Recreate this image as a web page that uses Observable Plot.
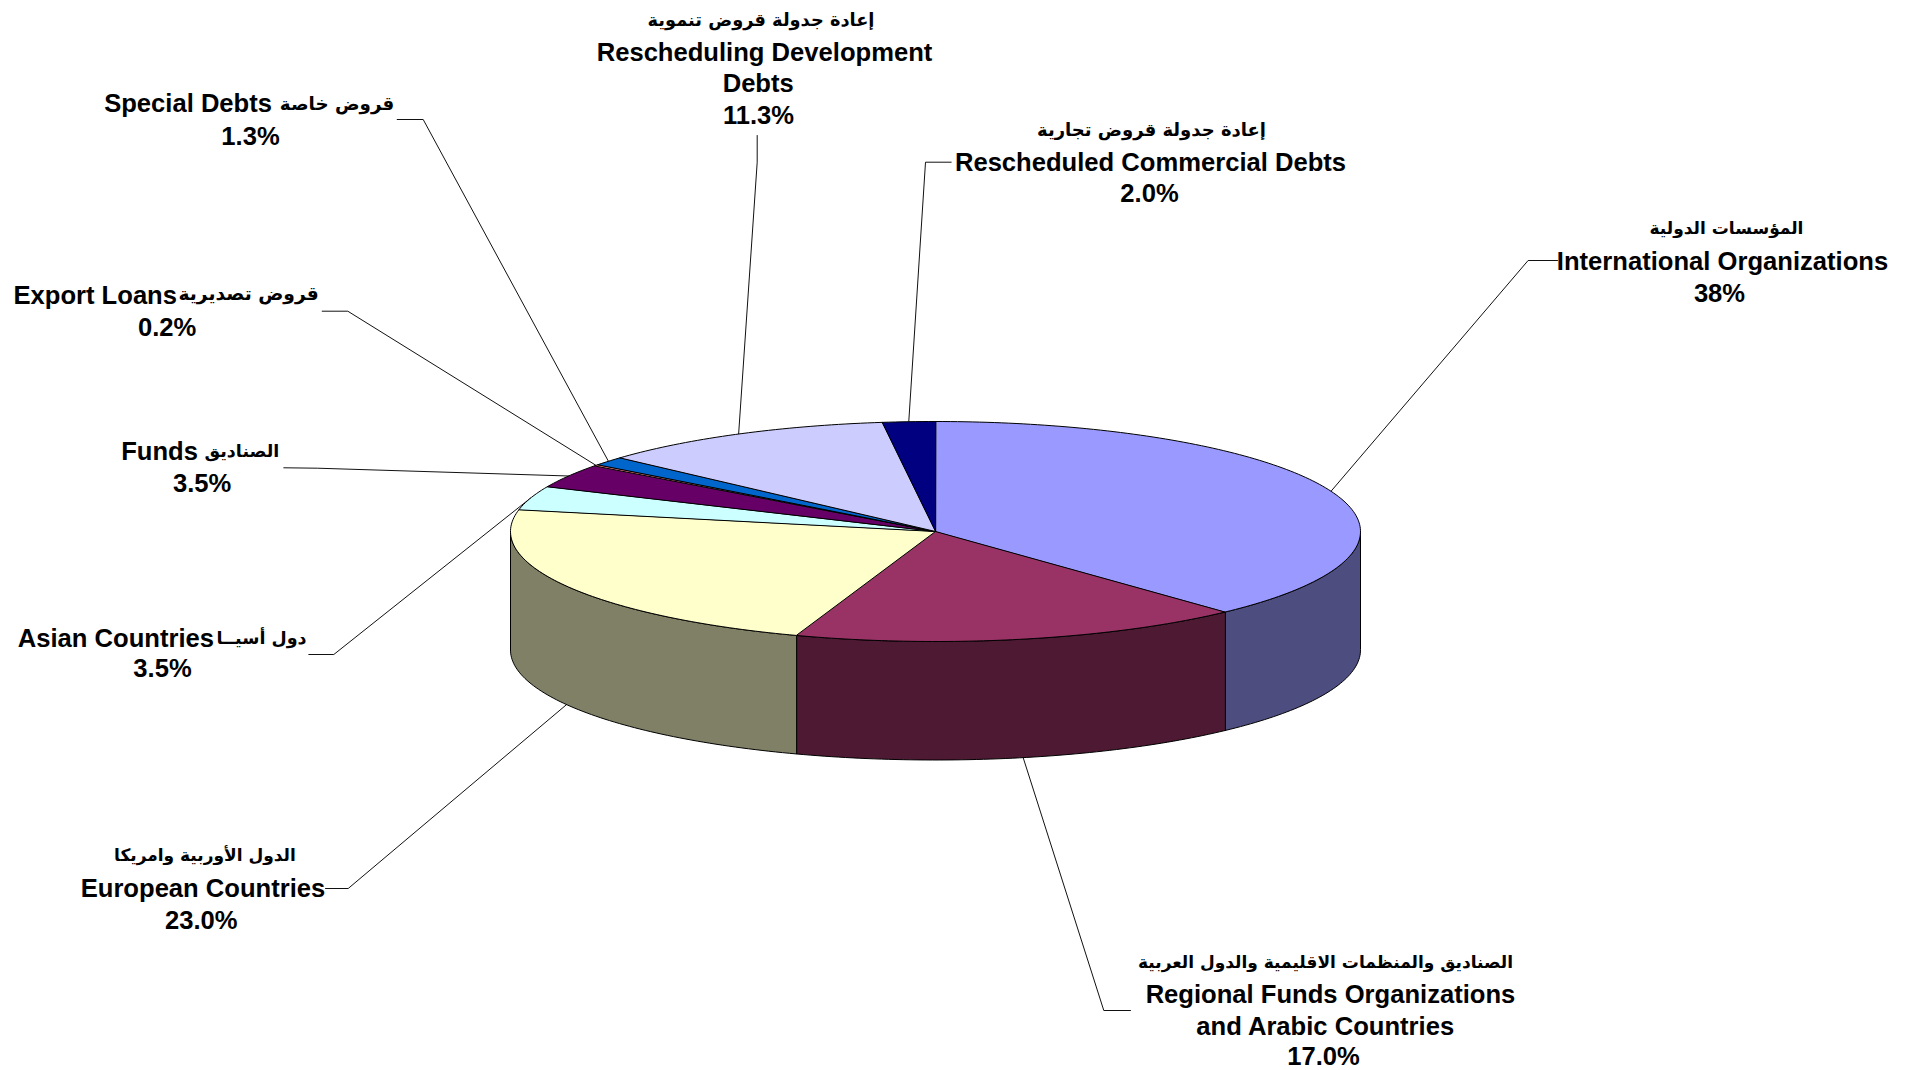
<!DOCTYPE html>
<html>
<head>
<meta charset="utf-8">
<script src="https://cdn.jsdelivr.net/npm/d3@7"></script>
<script src="https://cdn.jsdelivr.net/npm/@observablehq/plot@0.6"></script>
<style>html,body{margin:0;padding:0;background:#fff}svg{display:block}</style>
</head>
<body>
<div id="chart"></div>
<script>
// ---- data ----
const categories = ["International Organizations", "Regional Funds Organizations", "European Countries", "Asian Countries", "Funds", "Export Loans", "Special Debts", "Rescheduling Development", "Rescheduled Commercial Debts"];
const arabicNames = ["المؤسسات الدولية", "الصناديق والمنظمات الاقليمية والدول العربية", "الدول الأوربية وامريكا", "دول أسيــا", "الصناديق", "قروض تصديرية", "قروض خاصة", "إعادة جدولة قروض تنموية", "إعادة جدولة قروض تجارية"];
// wedge sizes (the printed labels are in shareLabels)
const shares = [38, 17.2, 22.8, 3.5, 3.5, 0.2, 1.3, 11.3, 2];
const shareLabels = ["38%", "17.0%", "23.0%", "3.5%", "3.5%", "0.2%", "1.3%", "11.3%", "2.0%"];
const extraLines = {1: "and Arabic Countries", 7: "Debts"};
const topColors = ["#9999FF", "#993366", "#FFFFCC", "#CCFFFF", "#660066", "#FF8080", "#0066CC", "#CCCCFF", "#000080"];
const sideColors = ["#4D4D80", "#4D1933", "#808066"];

// ---- layout ----
const cx = 935, cy = 531, rx = 425, ry = 110, depth = 118.5;
const latinFont = "'Liberation Sans', Arial, sans-serif", arabicFont = "'DejaVu Sans', sans-serif";
const latinSize = 25.6;
const rim = (deg, drop = 0) => {
  const a = deg * Math.PI / 180;
  return {x: cx + rx * Math.sin(a), y: cy - ry * Math.cos(a) + drop};
};
const arc = (a0, a1, drop = 0) => {
  const n = Math.max(2, Math.ceil(Math.abs(a1 - a0)));
  return d3.range(n + 1).map(i => rim(a0 + (a1 - a0) * i / n, drop));
};
const total = d3.sum(shares);
let acc = 0;
const slices = shares.map((v, i) => {
  const a0 = acc / total * 360; acc += v; const a1 = acc / total * 360;
  return {i, a0, a1, mid: (a0 + a1) / 2, color: topColors[i]};
});
const topPts = slices.flatMap(s => [{x: cx, y: cy}, ...arc(s.a0, s.a1)].map(p => ({...p, k: s.i, c: s.color})));
const sidePts = slices.filter(s => s.a0 < 270).flatMap((s, j) => {
  const a0 = Math.max(s.a0, 90), a1 = Math.min(s.a1, 270);
  return [...arc(a0, a1), ...arc(a1, a0, depth)].map(p => ({...p, k: s.i, c: sideColors[j]}));
});

// leader bends: elbow then the end next to the label, per slice
const leaderBends = [
  [[1527.6, 260], [1557, 260]],
  [[1103.3, 1010], [1130, 1010]],
  [[347.7, 888], [325, 888]],
  [[333.3, 654], [308.3, 654]],
  [[316.7, 467.7], [283.3, 467.3]],
  [[347.3, 310.7], [321.7, 310.7]],
  [[422.7, 119], [396.7, 119]],
  [[756.7, 161.7], [756.7, 135]],
  [[925, 161.7], [950.7, 161.7]]
];
const leaderPts = slices.flatMap(s => {
  const front = Math.cos(s.mid * Math.PI / 180) < 0;
  return [rim(s.mid, front ? depth : 0), ...leaderBends[s.i].map(([x, y]) => ({x, y}))].map(p => ({...p, k: s.i}));
});

// label rows
const rows = [
  // international
  {t: arabicNames[0], x: 1726, y: 228, f: "ar", a: "middle", s: 17},
  {t: categories[0], x: 1722, y: 261, f: "la", a: "middle"},
  {t: shareLabels[0], x: 1719, y: 293, f: "la", a: "middle"},
  // regional
  {t: arabicNames[1], x: 1325, y: 962, f: "ar", a: "middle", s: 17},
  {t: categories[1], x: 1330, y: 994, f: "la", a: "middle"},
  {t: extraLines[1], x: 1324.7, y: 1026, f: "la", a: "middle"},
  {t: shareLabels[1], x: 1323, y: 1056.5, f: "la", a: "middle"},
  // european
  {t: arabicNames[2], x: 204.4, y: 855, f: "ar", a: "middle", s: 17},
  {t: categories[2], x: 202.5, y: 888, f: "la", a: "middle"},
  {t: shareLabels[2], x: 200.7, y: 920.5, f: "la", a: "middle"},
  // asian
  {t: categories[3], x: 213.5, y: 638, f: "la", a: "end"},
  {t: arabicNames[3], x: 216, y: 638, f: "ar", a: "start", s: 17.5},
  {t: shareLabels[3], x: 162, y: 668.5, f: "la", a: "middle"},
  // funds
  {t: categories[4], x: 197.5, y: 451.5, f: "la", a: "end"},
  {t: arabicNames[4], x: 204, y: 451, f: "ar", a: "start", s: 17.5},
  {t: shareLabels[4], x: 201.7, y: 483.5, f: "la", a: "middle"},
  // export
  {t: categories[5], x: 176.5, y: 295, f: "la", a: "end"},
  {t: arabicNames[5], x: 178, y: 294, f: "ar", a: "start", s: 18.7},
  {t: shareLabels[5], x: 166.7, y: 327, f: "la", a: "middle"},
  // special
  {t: categories[6], x: 271.5, y: 103.5, f: "la", a: "end"},
  {t: arabicNames[6], x: 279.3, y: 103.5, f: "ar", a: "start", s: 18.3},
  {t: shareLabels[6], x: 250, y: 136, f: "la", a: "middle"},
  // rescheduling development
  {t: arabicNames[7], x: 760.5, y: 20, f: "ar", a: "middle", s: 17.8},
  {t: categories[7], x: 764, y: 52, f: "la", a: "middle"},
  {t: extraLines[7], x: 757.7, y: 83, f: "la", a: "middle"},
  {t: shareLabels[7], x: 758, y: 115.5, f: "la", a: "middle"},
  // rescheduled commercial
  {t: arabicNames[8], x: 1151, y: 130, f: "ar", a: "middle", s: 18},
  {t: categories[8], x: 1150, y: 162, f: "la", a: "middle"},
  {t: shareLabels[8], x: 1149, y: 193.5, f: "la", a: "middle"}
];
const textMarks = [["la", "middle"], ["la", "end"], ["ar", "middle"], ["ar", "start"]].map(([f, a]) =>
  Plot.text(rows.filter(r => r.f === f && r.a === a), {
    x: "x", y: "y", text: "t", textAnchor: a, lineAnchor: "middle", fill: "#000",
    fontFamily: f === "la" ? latinFont : arabicFont,
    fontSize: f === "la" ? latinSize : (r => r.s),
    fontWeight: "bold"
  }));

const chart = Plot.plot({
  width: 1913, height: 1070, margin: 0,
  x: {domain: [0, 1913], range: [0, 1913], axis: null},
  y: {domain: [0, 1070], range: [0, 1070], axis: null},
  color: {type: "identity"},
  style: {background: "#fff"},
  marks: [
    Plot.line(leaderPts, {x: "x", y: "y", z: "k", stroke: "#111", strokeWidth: 1, curve: "linear"}),
    Plot.line(sidePts, {x: "x", y: "y", z: "k", fill: "c", stroke: "#000", strokeWidth: 1, curve: "linear-closed"}),
    Plot.line(topPts, {x: "x", y: "y", z: "k", fill: "c", stroke: "#000", strokeWidth: 1, curve: "linear-closed"}),
    ...textMarks
  ]
});
document.getElementById("chart").appendChild(chart);
</script>
</body>
</html>
